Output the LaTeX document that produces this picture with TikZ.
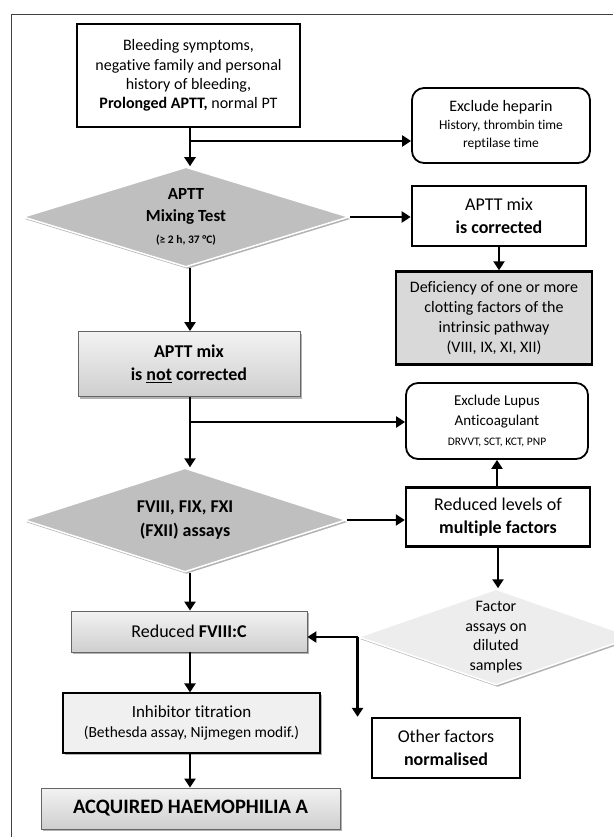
\documentclass[tikz,border=0pt]{standalone}
\usepackage{fontspec}
\setmainfont{Carlito}[Ligatures={NoCommon}]
\usetikzlibrary{arrows.meta,shapes.geometric,shadows}
\begin{document}
\begin{tikzpicture}[x=1pt,y=-1pt,
  arr/.style={line width=2.8pt,-{Triangle[width=11pt,length=9pt]}},
  shad/.style={drop shadow={shadow xshift=1.5pt,shadow yshift=-2pt,fill=black,opacity=0.3}},
  wbox/.style={draw=black,line width=2.2pt,fill=white,align=center,inner sep=0pt},
  rbox/.style={draw=black,line width=1.8pt,rounded corners=12pt,fill=white,align=center,inner sep=0pt},
  gbox/.style={draw=gray!80!black,line width=0.8pt,top color=gray!10,bottom color=gray!38,align=center,inner sep=0pt,shad},
  dia/.style={diamond,aspect=3,draw=white,line width=1.5pt,fill=gray!50,align=center,inner sep=0pt,shad},
]
\useasboundingbox (0,0) rectangle (613,837);
\draw[line width=0.9pt,black!75] (11,837) -- (11,14) -- (613,14);

\node[wbox,minimum width=223pt,minimum height=103pt,font=\fontsize{16}{19.3}\selectfont] (start) at (188.5,75.5)
  {Bleeding symptoms,\\negative family and personal\\history of bleeding,\\\textbf{Prolonged APTT,} normal PT};
\node[rbox,minimum width=178pt,minimum height=75pt,font=\fontsize{13.5}{18}\selectfont] (hep) at (501,125.5)
  {{\fontsize{16}{18}\selectfont Exclude heparin}\\History, thrombin time\\reptilase time};

\node[dia,minimum width=326pt,minimum height=100pt,font=\fontsize{17}{22}\selectfont\bfseries] (d1) at (186,217)
  {APTT\\Mixing Test\\{\fontsize{11.5}{13}\selectfont (≥ 2 h, 37 °C)}};
\node[wbox,line width=2.6pt,minimum width=174pt,minimum height=60pt,font=\fontsize{18}{23}\selectfont] (corr) at (499,216)
  {APTT mix\\\textbf{is corrected}};
\node[wbox,fill=gray!30,line width=2.4pt,minimum width=196pt,minimum height=93pt,font=\fontsize{16}{20}\selectfont] (def) at (494,318)
  {Deficiency of one or more\\clotting factors of the\\intrinsic pathway\\(VIII, IX, XI, XII)};

\node[gbox,minimum width=222pt,minimum height=65pt,font=\fontsize{18}{23}\selectfont\bfseries] (notc) at (189,364)
  {APTT mix\\is \underline{not} corrected};
\node[rbox,minimum width=182pt,minimum height=76pt,font=\fontsize{11.5}{20}\selectfont] (lup) at (497,421)
  {{\fontsize{15}{20}\selectfont Exclude Lupus}\\{\fontsize{15}{20}\selectfont Anticoagulant}\\DRVVT, SCT, KCT, PNP};

\node[dia,minimum width=322pt,minimum height=104pt,font=\fontsize{18}{24}\selectfont\bfseries] (d2) at (185,520)
  {FVIII, FIX, FXI\\(FXII) assays};
\node[wbox,line width=2.4pt,minimum width=184pt,minimum height=59pt,font=\fontsize{18}{23}\selectfont] (red) at (498,517)
  {Reduced levels of\\\textbf{multiple factors}};

\node[dia,fill=gray!14,minimum width=192pt,minimum height=96pt,font=\fontsize{16}{19.5}\selectfont] (d3) at (496,637)
  {Factor\\assays on\\diluted\\samples};
\node[gbox,minimum width=236pt,minimum height=41pt,font=\fontsize{18}{21}\selectfont] (f8) at (189,631.5)
  {Reduced \textbf{FVIII:C}};
\node[wbox,line width=2.4pt,minimum width=148pt,minimum height=60pt,font=\fontsize{18}{23}\selectfont] (oth) at (446,748)
  {Other factors\\\textbf{normalised}};
\node[draw=black,line width=1.2pt,fill=gray!12,align=center,inner sep=0pt,shad,minimum width=257pt,minimum height=60pt,font=\fontsize{15.5}{20}\selectfont] (inh) at (191.5,723)
  {{\fontsize{17}{20}\selectfont Inhibitor titration}\\(Bethesda assay, Nijmegen modif.)};
\node[gbox,minimum width=299pt,minimum height=41pt,font=\fontsize{20.5}{24}\selectfont\bfseries] (acq) at (190.5,808.5)
  {ACQUIRED HAEMOPHILIA A};

% connectors
\coordinate (b1) at (190,141);
\coordinate (b2) at (190,422);
\draw[arr] (start.south -| b1) -- (d1.north -| b1);
\draw[arr] (b1) -- (b1 -| hep.west);
\draw[arr] (d1.east) -- (corr.west |- d1.east);
\draw[arr] (corr.south) -- (def.north -| corr.south);
\draw[arr] (d1.south -| b1) -- (notc.north -| b1);
\draw[arr] (notc.south -| b1) -- (d2.north -| b1);
\draw[arr] (b2) -- (b2 -| lup.west);
\draw[arr] (d2.east) -- (red.west |- d2.east);
\draw[arr] (red.north -| lup.south) -- (lup.south);
\draw[arr] (red.south) -- (d3.north -| red.south);
\draw[arr] (d2.south -| b1) -- (f8.north -| b1);
\coordinate (j) at (d3.west);
\draw[arr] (j) -- (j -| f8.east);
\draw[arr] (j) -- (j |- oth.north);
\draw[arr] (f8.south -| b1) -- (inh.north -| b1);
\draw[arr] (inh.south -| b1) -- (acq.north -| b1);
\end{tikzpicture}
\end{document}
